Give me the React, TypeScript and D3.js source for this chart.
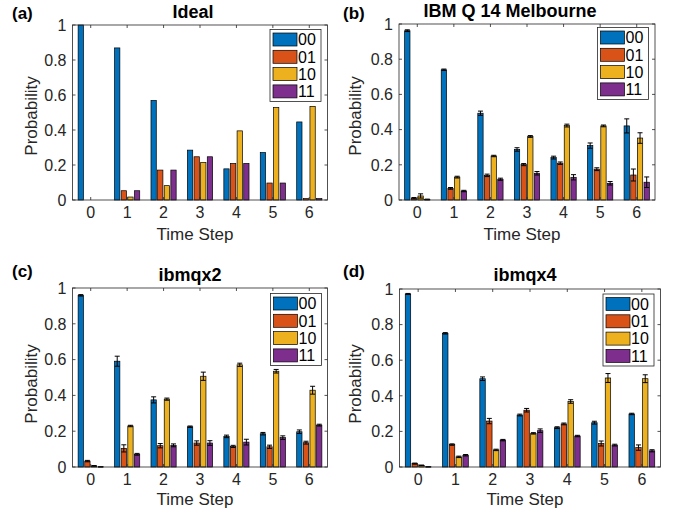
import React from "react";
import * as d3 from "d3";

const timeSteps = [0, 1, 2, 3, 4, 5, 6];
const stateLabels = ["00", "01", "10", "11"];
const stateColors = ["#0072BD", "#D95319", "#EDB120", "#7E2F8E"];
const yTicks = [0, 0.2, 0.4, 0.6, 0.8, 1];
const yTickLabels = ["0", "0.2", "0.4", "0.6", "0.8", "1"];

// rows = state (00, 01, 10, 11), columns = time step 0..6
const idealValues = [
  [1.0, 0.869, 0.569, 0.285, 0.178, 0.271, 0.446],
  [0.0, 0.053, 0.171, 0.247, 0.209, 0.097, 0.008],
  [0.0, 0.017, 0.082, 0.214, 0.395, 0.529, 0.535],
  [0.0, 0.053, 0.171, 0.247, 0.209, 0.097, 0.008],
];

const melbourneValues = [
  [0.962, 0.74, 0.493, 0.287, 0.241, 0.309, 0.421],
  [0.01, 0.066, 0.14, 0.201, 0.209, 0.175, 0.142],
  [0.023, 0.13, 0.25, 0.361, 0.423, 0.421, 0.352],
  [0.003, 0.051, 0.118, 0.152, 0.129, 0.095, 0.101],
];
const melbourneErrors = [
  [0.005, 0.004, 0.012, 0.01, 0.008, 0.015, 0.04],
  [0.004, 0.005, 0.007, 0.006, 0.007, 0.008, 0.034],
  [0.012, 0.005, 0.004, 0.005, 0.008, 0.005, 0.03],
  [0.002, 0.004, 0.006, 0.01, 0.015, 0.01, 0.03],
];

const ibmqx2Values = [
  [0.959, 0.591, 0.375, 0.225, 0.171, 0.186, 0.197],
  [0.033, 0.104, 0.119, 0.134, 0.115, 0.113, 0.136],
  [0.006, 0.229, 0.379, 0.507, 0.571, 0.535, 0.429],
  [0.001, 0.071, 0.121, 0.134, 0.139, 0.164, 0.234],
];
const ibmqx2Errors = [
  [0.004, 0.028, 0.017, 0.004, 0.007, 0.007, 0.01],
  [0.004, 0.02, 0.012, 0.012, 0.006, 0.009, 0.008],
  [0.002, 0.004, 0.006, 0.023, 0.009, 0.01, 0.022],
  [0.001, 0.005, 0.008, 0.013, 0.016, 0.01, 0.005],
];

const ibmqx4Values = [
  [0.972, 0.751, 0.496, 0.292, 0.221, 0.249, 0.298],
  [0.019, 0.126, 0.258, 0.319, 0.242, 0.132, 0.109],
  [0.009, 0.057, 0.096, 0.189, 0.368, 0.5, 0.496],
  [0.001, 0.066, 0.151, 0.204, 0.174, 0.123, 0.091],
];
const ibmqx4Errors = [
  [0.003, 0.004, 0.01, 0.005, 0.005, 0.008, 0.004],
  [0.003, 0.004, 0.015, 0.01, 0.005, 0.014, 0.015],
  [0.002, 0.004, 0.004, 0.004, 0.01, 0.025, 0.022],
  [0.001, 0.004, 0.004, 0.01, 0.004, 0.005, 0.006],
];

const FONT = "'Liberation Sans', Arial, Helvetica, sans-serif";
const AX = "#262626";

type PanelProps = {
  letter: string;
  title: string;
  values: number[][];
  errors?: number[][];
  x0: number;
  x1: number;
  y0: number;
  y1: number;
  titleX: number;
  titleY: number;
  letterX: number;
  letterY: number;
  ylabX: number;
  ylabY: number;
  xlabX: number;
  xlabY: number;
  legX: number;
  legY: number;
};

function Panel(p: PanelProps) {
  const x = d3.scaleLinear().domain([-0.5, 6.5]).range([p.x0, p.x1]);
  const y = d3.scaleLinear().domain([0, 1]).range([p.y1, p.y0]);
  const groupW = 4 / 5.5;
  const slot = groupW / 4;
  const bw = slot * 0.8;
  const barX = (t: number, s: number) => x(t - groupW / 2 + slot * (s + 0.5) - bw / 2);
  const barW = x(bw) - x(0);
  const capHalf = 2.5;
  const tickLen = 3;
  const legW = 51;
  const legRow = 17.3;
  return (
    <g>
      <text x={p.letterX} y={p.letterY} fontFamily={FONT} fontWeight="bold" fontSize={17}>
        {p.letter}
      </text>
      <text x={p.titleX} y={p.titleY} fontFamily={FONT} fontWeight="bold" fontSize={18} textAnchor="middle">
        {p.title}
      </text>
      {/* bars */}
      {p.values.map((row, s) =>
        row.map((v, t) => (
          <rect
            key={`b${s}-${t}`}
            x={barX(timeSteps[t], s)}
            y={y(v)}
            width={barW}
            height={Math.max(0, y(0) - y(v))}
            fill={stateColors[s]}
            stroke="#000"
            strokeWidth={0.7}
          />
        ))
      )}
      {/* error bars */}
      {p.errors &&
        p.values.map((row, s) =>
          row.map((v, t) => {
            const cx = barX(timeSteps[t], s) + barW / 2;
            const e = p.errors![s][t];
            return (
              <g key={`e${s}-${t}`} stroke="#000" strokeWidth={1}>
                <line x1={cx} x2={cx} y1={y(v - e)} y2={y(v + e)} />
                <line x1={cx - capHalf} x2={cx + capHalf} y1={y(v + e)} y2={y(v + e)} />
                <line x1={cx - capHalf} x2={cx + capHalf} y1={y(Math.max(0, v - e))} y2={y(Math.max(0, v - e))} />
              </g>
            );
          })
        )}
      {/* axes box */}
      <rect x={p.x0} y={p.y0} width={p.x1 - p.x0} height={p.y1 - p.y0} fill="none" stroke={AX} strokeWidth={0.8} />
      {yTicks.map((tv, i) => (
        <g key={`yt${i}`}>
          <line x1={p.x0} x2={p.x0 + tickLen} y1={y(tv)} y2={y(tv)} stroke={AX} strokeWidth={0.8} />
          <line x1={p.x1} x2={p.x1 - tickLen} y1={y(tv)} y2={y(tv)} stroke={AX} strokeWidth={0.8} />
          <text
            x={p.x0 - 6}
            y={y(tv)}
            dy="0.36em"
            textAnchor="end"
            fontFamily={FONT}
            fontSize={16}
            fill={AX}
          >
            {yTickLabels[i]}
          </text>
        </g>
      ))}
      {timeSteps.map((t) => (
        <g key={`xt${t}`}>
          <line x1={x(t)} x2={x(t)} y1={p.y1} y2={p.y1 - tickLen} stroke={AX} strokeWidth={0.8} />
          <line x1={x(t)} x2={x(t)} y1={p.y0} y2={p.y0 + tickLen} stroke={AX} strokeWidth={0.8} />
          <text x={x(t)} y={p.y1 + 18} textAnchor="middle" fontFamily={FONT} fontSize={16} fill={AX}>
            {String(t)}
          </text>
        </g>
      ))}
      <text
        transform={`translate(${p.ylabX},${p.ylabY}) rotate(-90)`}
        textAnchor="middle"
        dy="0.36em"
        fontFamily={FONT}
        fontSize={17}
        fill={AX}
      >
        Probability
      </text>
      <text x={p.xlabX} y={p.xlabY} textAnchor="middle" fontFamily={FONT} fontSize={17} fill={AX}>
        Time Step
      </text>
      {/* legend */}
      <g transform={`translate(${p.legX},${p.legY})`}>
        <rect x={0} y={0} width={legW} height={72} fill="#fff" stroke={AX} strokeWidth={0.8} />
        {stateLabels.map((lab, s) => (
          <g key={lab} transform={`translate(0,${10 + s * legRow})`}>
            <rect x={3} y={-6.5} width={24} height={13} fill={stateColors[s]} stroke="#000" strokeWidth={0.7} />
            <text x={28} y={0} dy="0.36em" fontFamily={FONT} fontSize={16} fill="#000">
              {lab}
            </text>
          </g>
        ))}
      </g>
    </g>
  );
}

export default function App() {
  return (
    <svg
      width={688}
      height={517}
      style={{ position: "absolute", left: 0, top: 0, background: "#fff" }}
    >
      <rect width={688} height={517} fill="#fff" />
      <Panel
        letter="(a)"
        title="Ideal"
        values={idealValues}
        x0={72.5}
        x1={327.5}
        y0={25}
        y1={200}
        titleX={193}
        titleY={18}
        letterX={12}
        letterY={19}
        ylabX={31}
        ylabY={116}
        xlabX={195}
        xlabY={240}
        legX={270}
        legY={29.5}
      />
      <Panel
        letter="(b)"
        title="IBM Q 14 Melbourne"
        values={melbourneValues}
        errors={melbourneErrors}
        x0={399}
        x1={655}
        y0={24}
        y1={200}
        titleX={510}
        titleY={17}
        letterX={343}
        letterY={19}
        ylabX={355}
        ylabY={116}
        xlabX={522}
        xlabY={240}
        legX={597.5}
        legY={27.5}
      />
      <Panel
        letter="(c)"
        title="ibmqx2"
        values={ibmqx2Values}
        errors={ibmqx2Errors}
        x0={72.5}
        x1={327.5}
        y0={288}
        y1={467}
        titleX={190}
        titleY={281}
        letterX={12}
        letterY={277}
        ylabX={31}
        ylabY={384}
        xlabX={195}
        xlabY={505}
        legX={270.5}
        legY={293.5}
      />
      <Panel
        letter="(d)"
        title="ibmqx4"
        values={ibmqx4Values}
        errors={ibmqx4Errors}
        x0={399.5}
        x1={660.5}
        y0={289}
        y1={467}
        titleX={525}
        titleY={281}
        letterX={343}
        letterY={277}
        ylabX={355}
        ylabY={384}
        xlabX={525}
        xlabY={505}
        legX={603}
        legY={294}
      />
    </svg>
  );
}
